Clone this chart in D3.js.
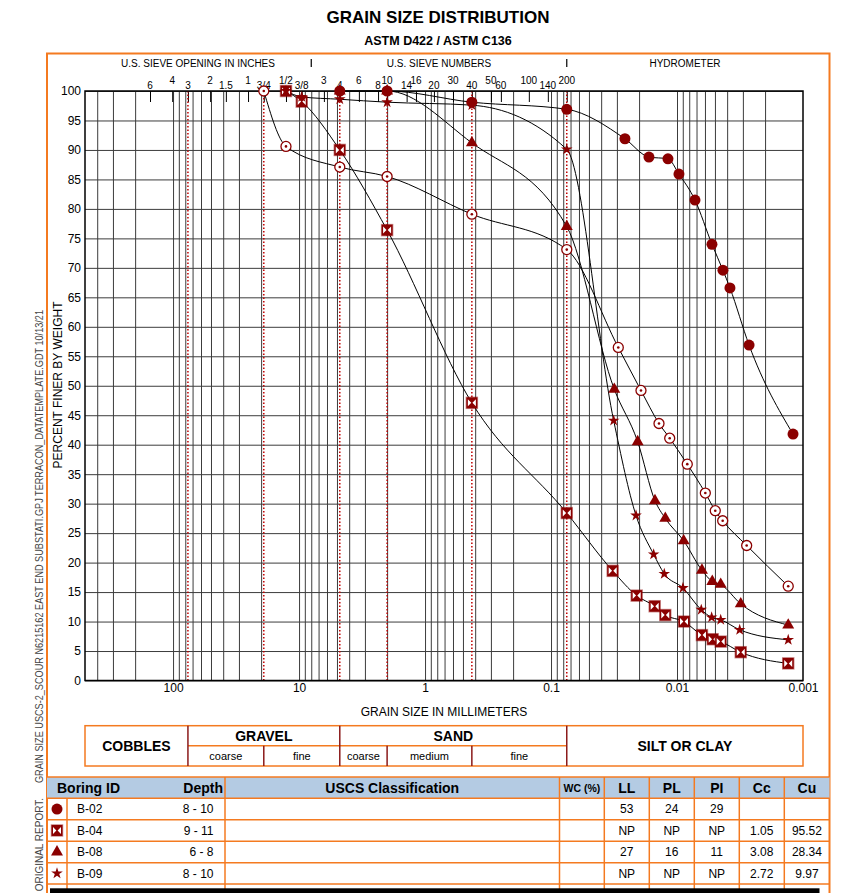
<!DOCTYPE html>
<html>
<head>
<meta charset="utf-8">
<script src="https://cdn.jsdelivr.net/npm/d3@7"></script>
<style>
  body { margin: 0; background: #fff; }
  svg { display: block; font-family: "Liberation Sans", Arial, Helvetica, sans-serif; }
</style>
</head>
<body>
<svg id="chart" width="855" height="893"></svg>
<script>
// sieve openings (labels + size in mm)
var sieveInches = ['6', '4', '3', '2', '1.5', '1', '3/4', '1/2', '3/8']
var sieveInchesMm = [152.4, 101.6, 76.2, 50.8, 38.1, 25.4, 19.05, 12.7, 9.525]
var sieveNumbers = ['3', '4', '6', '8', '10', '14', '16', '20', '30', '40', '50', '60', '100', '140', '200']
var sieveNumbersMm = [6.35, 4.75, 3.35, 2.36, 2.0, 1.4, 1.18, 0.85, 0.6, 0.425, 0.3, 0.25, 0.15, 0.106, 0.075]
var boundaryMm = [76.2, 19.05, 4.75, 2.0, 0.425, 0.075]
var yTicks = d3.range(0, 101, 5)
var xLabels = [100, 10, 1, 0.1, 0.01, 0.001]

// [grain size mm, percent finer]
var b02 = [[4.75, 100], [2.0, 100], [0.425, 98.1], [0.075, 96.9],
  [0.0259, 91.9], [0.0167, 88.8], [0.0118, 88.5], [0.00965, 85.9], [0.0072, 81.5],
  [0.00528, 74.0], [0.00432, 69.6], [0.0038, 66.6], [0.00268, 56.9], [0.0012, 41.8]]
var b04 = [[12.7, 100], [9.525, 98.2], [4.75, 90.0], [2.0, 76.4], [0.425, 47.1], [0.075, 28.4],
  [0.0324, 18.6], [0.0209, 14.4], [0.01504, 12.6], [0.01239, 11.1], [0.0088, 10.0],
  [0.00634, 7.7], [0.00521, 7.0], [0.0045, 6.6], [0.00312, 4.8], [0.00131, 2.9]]
var b08 = [[4.75, 100], [2.0, 100], [0.425, 91.2], [0.075, 77.0],
  [0.03147, 49.4], [0.02052, 40.5], [0.01496, 30.5], [0.01239, 27.5], [0.00885, 23.7],
  [0.00634, 18.7], [0.00525, 16.8], [0.0045, 16.3], [0.00312, 13.0], [0.00131, 9.4]]
var b09 = [[12.7, 100], [9.525, 99.0], [4.75, 98.6], [2.0, 98.1], [0.425, 97.6], [0.075, 90.1],
  [0.03182, 44.1], [0.02116, 28.0], [0.01532, 21.4], [0.01262, 18.1], [0.00897, 15.7],
  [0.00642, 12.0], [0.00531, 10.7], [0.0045, 10.3], [0.00318, 8.6], [0.00131, 6.9]]
var b10 = [[19.05, 100], [12.7, 90.6], [4.75, 87.1], [2.0, 85.5], [0.425, 79.1], [0.075, 73.1],
  [0.02925, 56.5], [0.01932, 49.2], [0.0139, 43.6], [0.01143, 41.1], [0.00829, 36.7],
  [0.00596, 31.8], [0.00497, 28.8], [0.00434, 27.1], [0.0028, 22.9], [0.00131, 16.0]]

// table
var boringIds = ['B-02', 'B-04', 'B-08', 'B-09']
var depths = ['8 - 10', '9 - 11', '6 - 8', '8 - 10']
var llVals = ['53', 'NP', '27', 'NP']
var plVals = ['24', 'NP', '16', 'NP']
var piVals = ['29', 'NP', '11', 'NP']
var ccVals = ['', '1.05', '3.08', '2.72']
var cuVals = ['', '95.52', '28.34', '9.97']
var markerTypes = ['circle', 'square', 'triangle', 'star']

var red = '#8b0000'
var orange = '#f47a20'

var svg = d3.select('#chart')
svg.append('rect').attr('width', 855).attr('height', 893).attr('fill', '#fff')

var pL = 85, pR = 803, pT = 91, pB = 680.5
var x = d3.scaleLog().domain([500, 0.001]).range([pL, pR])
var y = d3.scaleLinear().domain([0, 100]).range([pB, pT])

// titles
svg.append('text').text('GRAIN SIZE DISTRIBUTION')
  .attr('x', 438).attr('y', 23).attr('text-anchor', 'middle')
  .attr('font-size', 17).attr('font-weight', 'bold')
svg.append('text').text('ASTM D422 / ASTM C136')
  .attr('x', 438).attr('y', 45).attr('text-anchor', 'middle')
  .attr('font-size', 12.5).attr('font-weight', 'bold')

// outer orange frame
svg.append('rect').attr('x', 47).attr('y', 53.5).attr('width', 782.5).attr('height', 900)
  .attr('fill', 'none').attr('stroke', orange).attr('stroke-width', 2)

// side note
svg.append('text')
  .text('GRAIN SIZE USCS-2_SCOUR N6215162 EAST END SUBSTATI.GPJ TERRACON_DATATEMPLATE.GDT 10/13/21')
  .attr('transform', 'translate(43,783) rotate(-90)')
  .attr('font-size', 10).attr('fill', '#444')
  .attr('textLength', 473).attr('lengthAdjust', 'spacingAndGlyphs')
svg.append('text')
  .text('LABORATORY TESTS ARE NOT VALID IF SEPARATED FROM ORIGINAL REPORT.')
  .attr('transform', 'translate(43,798) rotate(-90)')
  .attr('text-anchor', 'end')
  .attr('font-size', 10).attr('fill', '#444')

// header labels above the plot
var headG = svg.append('g').attr('font-size', 10)
headG.append('text').text('U.S. SIEVE OPENING IN INCHES').attr('x', 198).attr('y', 67).attr('text-anchor', 'middle')
headG.append('text').text('U.S. SIEVE NUMBERS').attr('x', 439).attr('y', 67).attr('text-anchor', 'middle')
headG.append('text').text('HYDROMETER').attr('x', 685).attr('y', 67).attr('text-anchor', 'middle')
headG.selectAll('line.sep').data([8, 0.075]).enter().append('line')
  .attr('x1', d => x(d)).attr('x2', d => x(d)).attr('y1', 59).attr('y2', 67)
  .attr('stroke', '#000').attr('stroke-width', 1.2)

var sieveLabels = sieveInches.concat(sieveNumbers)
var sieveMm = sieveInchesMm.concat(sieveNumbersMm)
headG.selectAll('text.sieve').data(sieveLabels).enter().append('text')
  .attr('class', 'sieve')
  .attr('x', (d, i) => x(sieveMm[i]))
  .attr('y', (d, i) => i % 2 ? 83.5 : 88.5)
  .attr('text-anchor', 'middle')
  .text(d => d)

// grid
var gridMm = []
d3.range(-3, 3).forEach(e => {
  d3.range(1, 10).forEach(k => {
    var v = +(k * Math.pow(10, e)).toPrecision(6)
    if (v > 0.001 && v < 500) gridMm.push(v)
  })
})

svg.append('g').attr('transform', `translate(0,${pB})`)
  .call(d3.axisBottom(x).tickValues(gridMm).tickSize(-(pB - pT)).tickFormat(''))
  .call(g => g.select('.domain').remove())
  .call(g => g.selectAll('line').attr('stroke', '#3c3c3c'))

svg.append('g').attr('transform', `translate(${pL},0)`)
  .call(d3.axisLeft(y).tickValues(yTicks).tickSize(-(pR - pL)).tickPadding(4))
  .call(g => g.select('.domain').remove())
  .call(g => g.selectAll('line').attr('stroke', '#3c3c3c'))
  .call(g => g.selectAll('text').attr('font-size', 12).attr('font-family', null).attr('fill', '#000'))

svg.append('g').attr('transform', `translate(0,${pB})`)
  .call(d3.axisBottom(x).tickValues(xLabels).tickSize(0).tickPadding(3).tickFormat(d => String(d)))
  .call(g => g.select('.domain').remove())
  .call(g => g.selectAll('text').attr('font-size', 12).attr('font-family', null).attr('fill', '#000'))

// short sieve ticks hanging from top
svg.append('g').attr('transform', `translate(0,${pT})`)
  .call(d3.axisBottom(x).tickValues(sieveMm).tickSize(11).tickFormat(''))
  .call(g => g.select('.domain').remove())
  .call(g => g.selectAll('line').attr('stroke', '#000'))

// red dotted boundaries
svg.append('g').selectAll('line').data(boundaryMm).enter().append('line')
  .attr('x1', d => x(d)).attr('x2', d => x(d)).attr('y1', pT).attr('y2', pB)
  .attr('stroke', '#c00000').attr('stroke-width', 1.5).attr('stroke-dasharray', '1.5,2')

svg.append('rect').attr('x', pL).attr('y', pT).attr('width', pR - pL).attr('height', pB - pT)
  .attr('fill', 'none').attr('stroke', '#000').attr('stroke-width', 1.5)

// axis titles
svg.append('text').text('PERCENT FINER BY WEIGHT')
  .attr('transform', 'translate(62,385) rotate(-90)').attr('text-anchor', 'middle').attr('font-size', 12)
svg.append('text').text('GRAIN SIZE IN MILLIMETERS')
  .attr('x', 444).attr('y', 716).attr('text-anchor', 'middle').attr('font-size', 12)

// curves
var series = [
  {data: b10, type: 'ring'},
  {data: b04, type: 'square'},
  {data: b08, type: 'triangle'},
  {data: b09, type: 'star'},
  {data: b02, type: 'circle'}
]
var line = d3.line().x(d => x(d[0])).y(d => y(d[1])).curve(d3.curveMonotoneX)
svg.append('g').selectAll('path').data(series).enter().append('path')
  .attr('d', d => line(d.data)).attr('fill', 'none').attr('stroke', '#000').attr('stroke-width', 1)

function drawMarker(g, type) {
  if (type == 'circle') {
    g.append('circle').attr('r', 5.5).attr('fill', red)
  } else if (type == 'square') {
    g.append('rect').attr('x', -5.5).attr('y', -5.5).attr('width', 11).attr('height', 11)
      .attr('fill', red).attr('stroke', 'rgba(139,0,0,0.45)').attr('stroke-width', 1.5)
    g.append('path').attr('d', 'M-4,-3.5L-0.6,0L-4,3.5ZM4,-3.5L0.6,0L4,3.5Z').attr('fill', '#fff')
  } else if (type == 'triangle') {
    g.append('path').attr('d', d3.symbol(d3.symbolTriangle, 62)()).attr('fill', red)
  } else if (type == 'star') {
    g.append('path').attr('d', d3.symbol(d3.symbolStar, 42)()).attr('fill', red)
  } else {
    g.append('circle').attr('r', 5).attr('fill', '#fff').attr('stroke', red).attr('stroke-width', 1.3)
    g.append('circle').attr('r', 1.3).attr('fill', red)
  }
}

series.forEach(s => {
  svg.append('g').selectAll('g').data(s.data).enter().append('g')
    .attr('transform', d => `translate(${x(d[0])},${y(d[1])})`)
    .each(function() { drawMarker(d3.select(this), s.type) })
})

// classification table
var ct = svg.append('g')
var cTop = 725.7, cMid = 745.7, cBot = 766
ct.append('rect').attr('x', pL).attr('y', cTop).attr('width', pR - pL).attr('height', cBot - cTop)
  .attr('fill', 'none').attr('stroke', orange).attr('stroke-width', 1.5)
ct.append('line').attr('x1', x(76.2)).attr('x2', x(0.075)).attr('y1', cMid).attr('y2', cMid)
  .attr('stroke', orange).attr('stroke-width', 1.5)
var fullSep = [76.2, 4.75, 0.075]
ct.selectAll('line.sep').data(boundaryMm).enter().append('line')
  .attr('x1', d => x(d)).attr('x2', d => x(d))
  .attr('y1', d => fullSep.includes(d) ? cTop : cMid).attr('y2', cBot)
  .attr('stroke', '#8b1a1a').attr('stroke-width', 1.5)
var bigLabels = [
  {t: 'COBBLES', a: 500, b: 76.2, yy: 751},
  {t: 'GRAVEL', a: 76.2, b: 4.75, yy: 741},
  {t: 'SAND', a: 4.75, b: 0.075, yy: 741},
  {t: 'SILT OR CLAY', a: 0.075, b: 0.001, yy: 751}
]
ct.selectAll('text.big').data(bigLabels).enter().append('text')
  .attr('x', d => (x(d.a) + x(d.b)) / 2).attr('y', d => d.yy)
  .attr('text-anchor', 'middle').attr('font-size', 14).attr('font-weight', 'bold').text(d => d.t)
var subLabels = ['coarse', 'fine', 'coarse', 'medium', 'fine']
ct.selectAll('text.sub').data(subLabels).enter().append('text')
  .attr('x', (d, i) => (x(boundaryMm[i]) + x(boundaryMm[i + 1])) / 2).attr('y', 760)
  .attr('text-anchor', 'middle').attr('font-size', 11).text(d => d)

// data table
var dt = svg.append('g')
var hTop = 777, hBot = 798.3, rowH = 21.45
var colX = [47, 67, 225, 559.5, 604.3, 649.3, 694.3, 739.3, 784.3, 829.5]
dt.append('rect').attr('x', 47).attr('y', hTop).attr('width', 782.5).attr('height', hBot - hTop).attr('fill', '#b4cbe3')
d3.range(0, 6).forEach(i => {
  var yy = i == 0 ? hTop : hBot + (i - 1) * rowH
  dt.append('line').attr('x1', 47).attr('x2', 829.5).attr('y1', yy).attr('y2', yy)
    .attr('stroke', orange).attr('stroke-width', 1.5)
})
colX.slice(1, -1).forEach((cx, i) => {
  dt.append('line').attr('x1', cx).attr('x2', cx).attr('y1', i == 0 ? hBot : hTop).attr('y2', 893)
    .attr('stroke', orange).attr('stroke-width', 1.5)
})
var hy = 793
dt.append('text').text('Boring ID').attr('x', 57).attr('y', hy).attr('font-size', 14).attr('font-weight', 'bold')
dt.append('text').text('Depth').attr('x', 223).attr('y', hy).attr('text-anchor', 'end').attr('font-size', 14).attr('font-weight', 'bold')
dt.append('text').text('USCS Classification').attr('x', (colX[2] + colX[3]) / 2).attr('y', hy)
  .attr('text-anchor', 'middle').attr('font-size', 14).attr('font-weight', 'bold')
dt.append('text').text('WC (%)').attr('x', (colX[3] + colX[4]) / 2).attr('y', 791.5)
  .attr('text-anchor', 'middle').attr('font-size', 10.5).attr('font-weight', 'bold')
;['LL', 'PL', 'PI', 'Cc', 'Cu'].forEach((t, i) => {
  dt.append('text').text(t).attr('x', (colX[4 + i] + colX[5 + i]) / 2).attr('y', hy)
    .attr('text-anchor', 'middle').attr('font-size', 14).attr('font-weight', 'bold')
})
boringIds.forEach((id, i) => {
  var cy = hBot + i * rowH + rowH / 2
  var g = dt.append('g').attr('transform', `translate(57,${cy})`)
  drawMarker(g, markerTypes[i])
  dt.append('text').text(id).attr('x', 77).attr('y', cy + 4.3).attr('font-size', 12)
  dt.append('text').text(depths[i]).attr('x', 213.5).attr('y', cy + 4.3).attr('text-anchor', 'end').attr('font-size', 12)
  var vals = [llVals[i], plVals[i], piVals[i], ccVals[i], cuVals[i]]
  vals.forEach((v, j) => {
    dt.append('text').text(v).attr('x', (colX[4 + j] + colX[5 + j]) / 2).attr('y', cy + 4.3)
      .attr('text-anchor', 'middle').attr('font-size', 12)
  })
})
dt.append('rect').attr('x', 50).attr('y', 888.3).attr('width', 769.5).attr('height', 10).attr('fill', '#000')
</script>
</body>
</html>
